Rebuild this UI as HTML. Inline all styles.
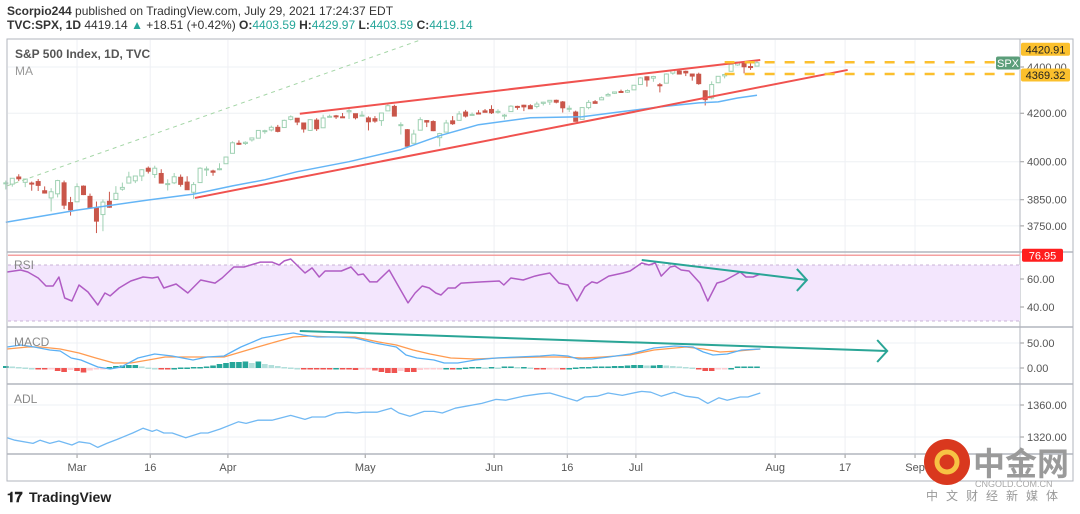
<!DOCTYPE html>
<html><head><meta charset="utf-8"><style>
html,body{margin:0;padding:0;background:#fff;}
body{width:1080px;height:514px;overflow:hidden;font-family:"Liberation Sans",sans-serif;}
svg{display:block}
</style></head><body>
<svg id="chart" width="1080" height="514" viewBox="0 0 1080 514" xmlns="http://www.w3.org/2000/svg" font-family="Liberation Sans, sans-serif">
<g id="hdr">
<text x="7" y="15" font-size="12" fill="#333"><tspan font-weight="bold">Scorpio244</tspan> published on TradingView.com, July 29, 2021 17:24:37 EDT</text>
<text x="7" y="29" font-size="12" fill="#333"><tspan font-weight="bold">TVC:SPX, 1D</tspan> 4419.14 <tspan fill="#26a69a">▲</tspan> +18.51 (+0.42%) <tspan font-weight="bold">O:</tspan><tspan fill="#26a69a">4403.59</tspan> <tspan font-weight="bold">H:</tspan><tspan fill="#26a69a">4429.97</tspan> <tspan font-weight="bold">L:</tspan><tspan fill="#26a69a">4403.59</tspan> <tspan font-weight="bold">C:</tspan><tspan fill="#26a69a">4419.14</tspan></text>
</g>
<g id="grid"></g>
<g id="panels"></g>
<g id="marks"></g>
<g id="overlay"></g>
<rect x="7" y="39" width="1066" height="442" fill="none" stroke="#b2b5be" stroke-width="1"/>
<text x="15" y="58" font-size="12" font-weight="bold" fill="#555">S&amp;P 500 Index, 1D, TVC</text>
<text x="15" y="75" font-size="12" fill="#999">MA</text>
<text x="14" y="269" font-size="12" fill="#888">RSI</text>
<text x="14" y="346" font-size="12" fill="#888">MACD</text>
<text x="14" y="403" font-size="12" fill="#888">ADL</text>
<g>
<text x="7" y="502" font-size="14" font-weight="bold" fill="#222">𝟏𝟕</text>
<text x="29" y="502" font-size="14" font-weight="bold" fill="#222">TradingView</text>
</g>
<g>
<circle cx="947" cy="462" r="23" fill="#d9381e"/>
<circle cx="947" cy="462" r="10" fill="none" stroke="#f7c244" stroke-width="5"/>
<text x="973" y="475" font-size="32" font-weight="bold" fill="#9a9a9a" font-family="Liberation Sans, Noto Sans CJK SC, sans-serif">中金网</text>
<text x="975" y="487" font-size="9" fill="#aaa">CNGOLD.COM.CN</text>
<text x="926" y="500" font-size="12" fill="#999" letter-spacing="8" font-family="Liberation Sans, Noto Sans CJK SC, sans-serif">中文财经新媒体</text>
</g>
</svg>
<script>
const NS='http://www.w3.org/2000/svg';
// ---- data ----
const dateTicks=['Mar','16','Apr','May','Jun','16','Jul','Aug','17','Sep'];
const dateTickIdx=[11,22.3,34.3,55.5,75.4,86.7,97.3,118.8,129.6,140.4];
const priceTicks=[4400,4200,4000,3850,3750];
const opens=[3916,3911,3939,3918,3915,3921,3885,3857,3873,3916,3839,3842,3903,3863,3818,3793,3844,3851,3891,3915,3924,3943,3974,3949,3953,3913,3916,3938,3919,3879,3917,3969,3963,3968,3992,4034,4075,4074,4089,4096,4124,4130,4141,4140,4174,4179,4159,4128,4171,4139,4186,4189,4185,4206,4198,4192,4180,4177,4169,4210,4229,4150,4131,4075,4129,4169,4165,4098,4121,4168,4170,4205,4191,4201,4210,4216,4207,4191,4207,4229,4234,4232,4229,4242,4248,4255,4248,4220,4205,4174,4224,4249,4257,4274,4285,4293,4290,4300,4323,4357,4351,4322,4329,4373,4382,4381,4369,4368,4296,4265,4331,4361,4381,4409,4416,4402,4404];
const highs=[3925,3935,3950,3933,3921,3931,3902,3895,3928,3925,3861,3914,3906,3874,3843,3851,3881,3903,3917,3960,3944,3970,3981,3984,3970,3930,3955,3949,3942,3919,3978,3981,3968,3994,4021,4083,4087,4083,4098,4129,4131,4148,4151,4173,4191,4180,4160,4175,4179,4194,4194,4193,4201,4218,4198,4209,4187,4188,4202,4238,4236,4162,4134,4131,4183,4171,4170,4118,4172,4188,4209,4214,4203,4213,4218,4234,4217,4197,4234,4232,4236,4238,4249,4249,4255,4258,4252,4233,4211,4224,4256,4256,4271,4287,4292,4301,4302,4321,4355,4359,4361,4330,4372,4387,4393,4384,4369,4375,4299,4337,4359,4369,4415,4422,4416,4416,4430];
const lows=[3890,3901,3923,3899,3885,3884,3874,3805,3859,3814,3789,3842,3868,3818,3723,3730,3819,3851,3885,3915,3915,3923,3953,3935,3914,3886,3911,3901,3889,3853,3917,3943,3944,3966,3992,4034,4068,4068,4082,4095,4114,4124,4120,4140,4170,4150,4119,4126,4126,4139,4182,4176,4182,4176,4174,4188,4128,4160,4147,4210,4188,4111,4056,4074,4129,4142,4125,4062,4121,4151,4170,4182,4190,4197,4203,4197,4198,4174,4207,4215,4209,4218,4221,4233,4235,4242,4203,4205,4165,4174,4217,4241,4257,4271,4282,4287,4287,4300,4323,4314,4335,4289,4329,4366,4368,4360,4340,4322,4233,4259,4329,4350,4381,4405,4372,4387,4404];
const closes=[3916,3934,3932,3931,3913,3906,3876,3881,3925,3829,3811,3901,3870,3819,3768,3841,3821,3875,3898,3939,3943,3968,3962,3974,3915,3913,3940,3910,3889,3909,3974,3971,3958,3972,4019,4077,4073,4079,4097,4128,4127,4141,4124,4170,4185,4163,4134,4173,4135,4180,4187,4186,4183,4211,4181,4192,4164,4167,4201,4232,4188,4152,4063,4113,4173,4163,4127,4115,4159,4156,4197,4188,4195,4200,4204,4202,4208,4192,4230,4226,4227,4219,4239,4247,4255,4247,4223,4221,4166,4224,4246,4242,4266,4280,4291,4291,4297,4320,4352,4343,4358,4320,4369,4385,4369,4374,4360,4327,4258,4323,4359,4367,4412,4422,4401,4400,4419];
const maIdx=[0,11,22,29,35,40,45,53,61,67,73,81,89,95,101,107,110,113,116];
const maVal=[3764,3810,3849,3872,3904,3928,3960,4000,4049,4106,4152,4181,4185,4206,4227,4244,4248,4265,4277];
const rsiIdx=[0.2,2.3,3.4,5.0,6.2,7.3,8.2,9.1,10.2,11.3,12.7,14.2,15.3,16.1,17.5,19.3,21.2,22.6,23.5,24.4,26.3,28.1,30.1,32.3,33.4,35.2,36.8,39.3,41.1,42.2,43.0,44.0,46.2,47.3,48.4,49.3,51.8,53.3,54.4,55.2,56.2,57.3,59.2,60.7,62.1,63.2,64.3,65.4,66.4,67.2,68.3,69.4,70.3,73.5,76.2,76.9,78.0,79.9,81.7,82.5,84,85.4,86.8,88.2,89.4,90.5,91.3,93.1,95.3,96.4,98.2,99.3,100.3,101.2,102.6,103.3,104.3,105.5,107.2,108.4,109.8,110.9,112,113.4,114.3,115.4,116.5];
const rsiVal=[65,66.4,65,60.7,55,55,61.4,46.4,44.3,55.7,50.7,41.4,50,47.9,53.6,58.6,61.4,60.7,61.4,53.6,56.4,50,59.3,57.1,60.7,68.6,68.6,72.1,72.1,70,72.9,74.3,64.3,67.9,61.4,65.7,65.7,68.6,62.9,63.6,57.9,57.9,66.4,54.3,42.9,50,55,53.6,50,48.6,53.6,53.6,57.1,57.9,58.6,55.7,60.7,59.3,62.1,62.9,64.3,57.1,55.7,44.3,54.3,57.9,57.1,62.1,64.3,65.7,71.4,70,71.4,62.1,68.6,69.3,66.4,65.7,57.1,44.3,57.1,58.6,61.4,65,61.4,61.4,63.6];
const rsiTicks=[60,40];
const macdIdx=[0.2,2.3,4.4,6.8,8.4,10.1,11.6,14.2,16.1,17.8,20.4,23.0,25.7,28.9,31.1,33.7,36.3,39.6,42.2,44.4,45.9,48.1,51.1,53.9,57.0,60.3,61.8,63.5,66.1,67.7,69.8,72.5,75.7,79.0,82.5,84.6,86.8,88.4,90.5,93.1,96.4,100.1,103.3,106.1,107.7,109.2,111.4,113.6,116.5];
const macdVal=[42,46,42,36,34,20,16,2,-2,2,20,28,24,16,22,24,42,60,66,70,66,62,62,60,50,42,26,20,16,10,10,16,20,22,24,26,24,18,18,22,28,40,44,42,32,26,28,36,38];
const sigIdx=[0.2,3.4,5.4,8.4,11.3,13.9,16.7,19.3,22.0,24.6,27.8,31.1,33.7,36.3,38.9,41.6,44.4,47.0,50.2,53.9,57.6,60.3,62.9,65.5,68.7,72.5,76.2,82.5,85.7,89.0,92.1,96.4,100.1,105.0,107.7,110.3,113.1,116.5];
const sigVal=[38,42,42,38,30,20,10,10,16,22,22,22,22,32,42,52,62,64,62,62,52,46,36,28,20,18,20,22,22,20,22,26,36,42,38,32,34,38];
const histVal=[4,3,2,1,0,-1,-3,-2,-6,-8,-4,-6,-9,-5,-3,-2,2,4,5,6,6,3,1,0,-1,-1,0,1,1,2,2,3,5,8,10,12,12,13,10,13,8,6,4,2,1,0,-1,-1,-1,-1,-1,0,-2,-3,-4,-3,-2,-5,-8,-10,-10,-6,-8,-8,-4,-3,-2,-1,0,-1,0,1,2,2,1,2,1,3,3,2,2,1,-1,-3,-2,-1,-1,0,1,2,2,3,3,3,4,4,5,6,6,5,5,6,5,4,3,2,1,-2,-6,-6,-3,-1,0,3,3,3,3];
const macdTicks=[50,0];
const adlIdx=[0.2,1.4,4.2,5.3,6.8,8.2,10.2,11.3,13.0,14.2,15.6,17.2,19.6,21.2,22.6,23.3,24.4,25.7,27.8,30.1,31.2,33.1,35.9,37.1,38.9,41.1,44.0,46.2,47.3,49.3,51.0,52.8,54.1,55.2,57.3,59.5,60.7,62.4,64.6,66.1,67.4,69.4,71.4,73.5,75.7,77.2,79.9,82.5,84.0,85.7,88.2,89.4,91.3,93.0,95.2,97.5,98.2,99.6,101.2,103.2,105.0,106.9,108.4,110.1,111.4,113.4,114.6,116.5];
const adlVal=[1319,1316,1312,1316,1312,1315,1310,1314,1312,1307,1312,1317,1325,1331,1327,1329,1325,1325,1319,1325,1325,1330,1339,1337,1341,1341,1347,1342,1345,1345,1350,1351,1350,1351,1351,1356,1350,1346,1352,1352,1350,1356,1359,1362,1367,1366,1371,1374,1375,1371,1365,1370,1371,1375,1372,1376,1377,1376,1371,1376,1371,1369,1362,1369,1366,1370,1370,1375];
const adlTicks=[1360,1320];
const upperTrend=[[45.4,4198],[116.5,4431]];
const lowerTrend=[[29.2,3857],[130,4387]];
const dottedTrend=[[0.2,3904],[64,4521]];
const levelPrices=[4420.91,4369.32];
const levelStart=111;
const rsiArrow=[[98.2,73.6],[123.7,59.3]];
const macdArrow=[[45.4,74],[136.1,34]];
const rsiLast=76.95;
// ---- axes ----
const xOf=i=>5.8+i*6.476;
const yP=p=>67+(Math.log(4400)-Math.log(p))*994;
const yR=v=>279-(v-60)*1.4;
const yM=v=>368-v*0.5;
const yA=v=>405-(v-1360)*0.8;
const L=1020;
function el(tag,attrs,parent){const e=document.createElementNS(NS,tag);for(const k in attrs)e.setAttribute(k,attrs[k]);(parent||document.getElementById('marks')).appendChild(e);return e;}
const grid=document.getElementById('grid'),panels=document.getElementById('panels'),ov=document.getElementById('overlay');
dateTickIdx.forEach((d,k)=>{const x=xOf(d);
 const g=el('line',{x1:x,x2:x,y1:40,y2:454,stroke:'#eef0f4'},grid);
 
 
 const t=el('text',{x:x,y:471,'font-size':11,fill:'#555','text-anchor':'middle'},grid);t.textContent=dateTicks[k];
 
 
 el('line',{x1:x,x2:x,y1:454,y2:458,stroke:'#999'},grid);
});
function hTick(y,label){
 const g=el('line',{x1:8,x2:L,y1:y,y2:y,stroke:'#eef0f4'},grid);
 
 
 el('line',{x1:L,x2:L+4,y1:y,y2:y,stroke:'#999'},grid);
 const t=el('text',{x:L+7,y:y+4,'font-size':11,fill:'#555'},grid);t.textContent=label;
 
 
}
priceTicks.forEach(p=>hTick(yP(p),p.toFixed(2)));
rsiTicks.forEach(v=>hTick(yR(v),v.toFixed(2)));
macdTicks.forEach(v=>hTick(yM(v),v.toFixed(2)));
adlTicks.forEach(v=>hTick(yA(v),v.toFixed(2)));
[252,327,384,454].forEach(y=>{const s=el('line',{x1:7,x2:1073,y1:y,y2:y,stroke:'#b2b5be','stroke-width':1.5},panels);
 
 });
const ax=el('line',{x1:L,x2:L,y1:39,y2:481,stroke:'#b2b5be'},panels);


const band=el('rect',{x:8,y:yR(70),width:L-8,height:yR(30)-yR(70),fill:'#f3e6fd'},panels);


[70,30].forEach(v=>el('line',{x1:8,x2:L,y1:yR(v),y2:yR(v),stroke:'#c9b3d6','stroke-dasharray':'3 3'},panels));
const rl=el('line',{x1:8,x2:L,y1:yR(rsiLast),y2:yR(rsiLast),stroke:'#f4a0a0','stroke-width':1.5},panels);


const cg=el('g',{opacity:0.85});


closes.forEach((c,i)=>{const o=opens[i],x=xOf(i),up=c>=o;const col=up?'#8fc9a6':'#c0392b';
 const g=el('g',{},cg);
 
 
 el('line',{x1:x,x2:x,y1:yP(highs[i]),y2:yP(lows[i]),stroke:col,'stroke-width':1},g);
 const t=Math.min(yP(o),yP(c)),h=Math.max(1,Math.abs(yP(o)-yP(c)));
 el('rect',{x:x-2,y:t,width:4,height:h,fill:up?'#fff':col,stroke:col,'stroke-width':1},g);
});
function poly(xs,ys,fx,fy,stroke,w,name,extra){const pts=xs.map((v,k)=>xOf(v).toFixed(1)+','+fy(ys[k]).toFixed(1)).join(' ');
 const p=el('polyline',Object.assign({points:pts,fill:'none',stroke:stroke,'stroke-width':w,'stroke-linejoin':'round'},extra||{}));
 
 return p;}
poly(maIdx,maVal,xOf,yP,'#64b5f6',1.5,'ma-line');
histVal.forEach((v,i)=>{const prev=i>0?histVal[i-1]:v;let col;
 if(v>=0)col=v>=prev?'#26a69a':'#b2dfdb';else col=v<=prev?'#ef5350':'#ffcdd2';
 const y0=yM(0),y1=yM(v);
 const r=el('rect',{x:xOf(i)-2.8,y:Math.min(y0,y1),width:5.6,height:Math.max(1.5,Math.abs(y1-y0)),fill:col});
 
 });
poly(sigIdx,sigVal,xOf,yM,'#ff9b50',1.3,'macd-signal-line');
poly(macdIdx,macdVal,xOf,yM,'#5ab0f5',1.3,'macd-line');
poly(rsiIdx,rsiVal,xOf,yR,'#b05cc4',1.5,'rsi-line');
poly(adlIdx,adlVal,xOf,yA,'#72b9f3',1.3,'adl-line');
function seg(pts,fy,stroke,w,name,extra){const l=el('line',Object.assign({x1:xOf(pts[0][0]),y1:fy(pts[0][1]),x2:xOf(pts[1][0]),y2:fy(pts[1][1]),stroke:stroke,'stroke-width':w},extra||{}),ov);
 
 return l;}
seg(dottedTrend,yP,'#a5d6a7',1,'dotted-trend-line',{'stroke-dasharray':'4 4'});
seg(upperTrend,yP,'#f0524f',2,'upper-wedge-line');
seg(lowerTrend,yP,'#f0524f',2,'lower-wedge-line');
levelPrices.forEach(p=>{const l=el('line',{x1:xOf(levelStart),x2:L,y1:yP(p),y2:yP(p),stroke:'#fbbf2d','stroke-width':2.5,'stroke-dasharray':'10 10'},ov);
 
 });
function arrow(pts,fy,name){const l=seg(pts,fy,'#2aa596',2,name);
 const x2=xOf(pts[1][0]),y2=fy(pts[1][1]);
 const c=el('polyline',{points:(x2-10)+','+(y2-11)+' '+x2+','+y2+' '+(x2-10)+','+(y2+11),fill:'none',stroke:'#2aa596','stroke-width':2},ov);
 
 }
arrow(rsiArrow,yR,'rsi-divergence-arrow');
arrow(macdArrow,yM,'macd-divergence-arrow');
function tag(y,txt,bg,fg,name,x,w){const g=el('g',{},ov);
 
 
 el('rect',{x:x,y:y-6.5,width:w,height:13,rx:2,fill:bg},g);
 const t=el('text',{x:x+w/2,y:y+4,'font-size':11,fill:fg,'text-anchor':'middle'},g);t.textContent=txt;}
tag(yP(levelPrices[0])-13,levelPrices[0].toFixed(2),'#fbc02d','#222','upper-level-label',L+1,49);
tag(yP(levelPrices[1])+1,levelPrices[1].toFixed(2),'#fbc02d','#222','lower-level-label',L+1,49);
tag(63,'SPX','#5b9e7a','#fff','spx-tag',996,24);
tag(yR(rsiLast),rsiLast.toFixed(2),'#ff1e1e','#fff','rsi-value-label',L+2,41);
</script>
</body></html>
